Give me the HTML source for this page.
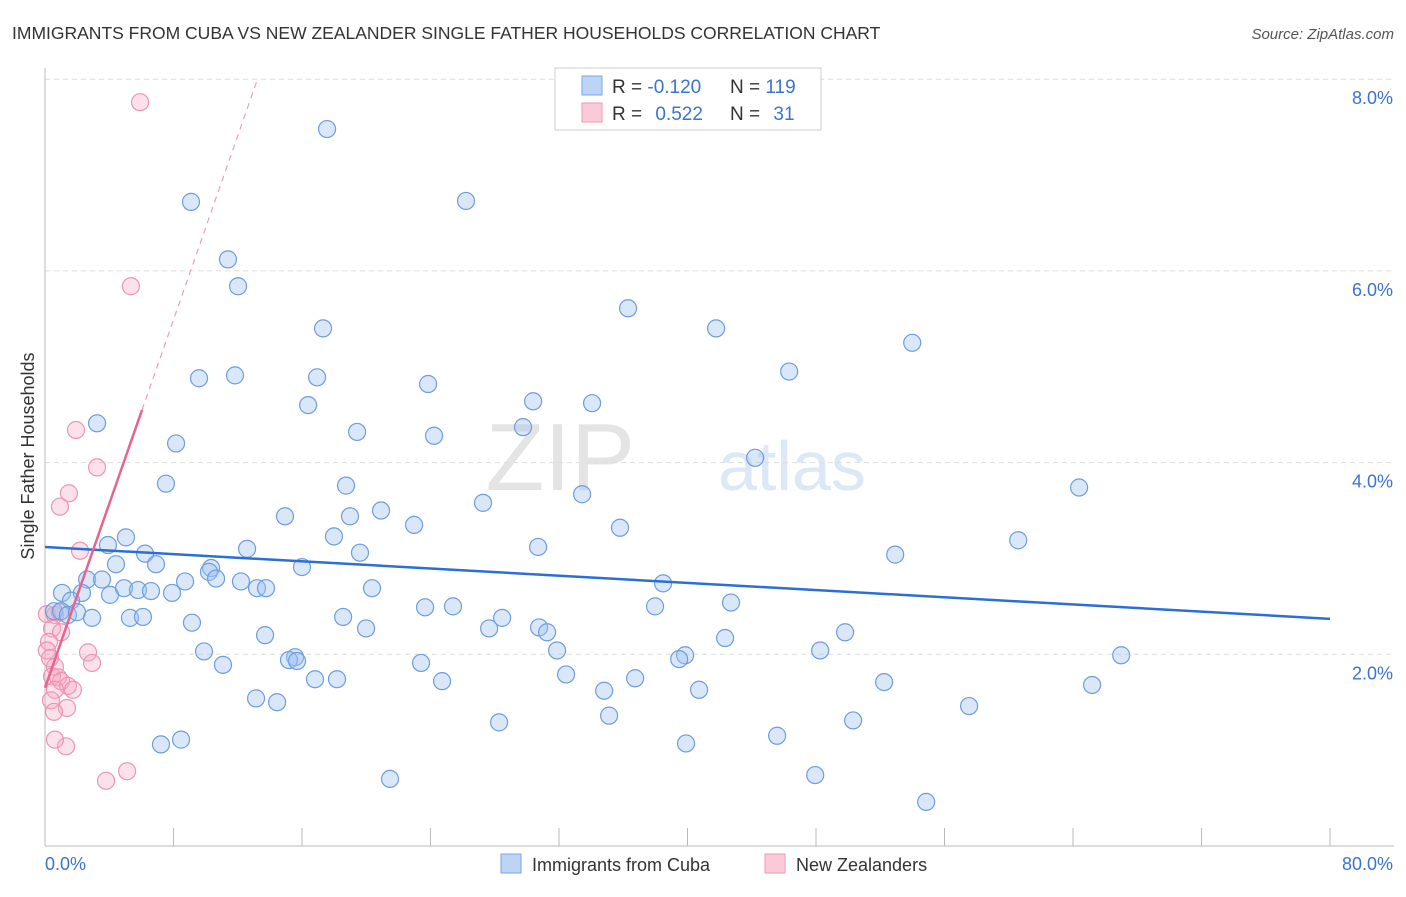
<!DOCTYPE html>
<html><head><meta charset="utf-8"><style>
body{margin:0;background:#fff;font-family:"Liberation Sans",sans-serif;}
svg text{font-family:"Liberation Sans",sans-serif;}
</style></head><body>
<svg id="chart" width="1406" height="892" xmlns="http://www.w3.org/2000/svg">
<text x="12" y="39" font-size="17.5" fill="#333">IMMIGRANTS FROM CUBA VS NEW ZEALANDER SINGLE FATHER HOUSEHOLDS CORRELATION CHART</text>
<text x="1394" y="39" font-size="15" fill="#555" font-style="italic" text-anchor="end">Source: ZipAtlas.com</text>
<text x="635" y="490" font-size="96" fill="#e4e4e4" text-anchor="end" font-family="Liberation Serif">ZIP</text>
<text x="718" y="490" font-size="70" fill="#dce8f7">atlas</text>
<g id="grid"></g>
<g id="axes"></g>
<g id="marks"></g>
<text transform="translate(34,456) rotate(-90)" font-size="18" fill="#333" text-anchor="middle">Single Father Households</text>
<g>
<rect x="555" y="68" width="266" height="62" fill="#fff" stroke="#ccc"/>
<rect x="582" y="76" width="20" height="19" fill="#bcd4f5" stroke="#7aa6e6"/>
<rect x="582" y="103" width="20" height="19" fill="#fbcad8" stroke="#ee9ab5"/>
<text x="612" y="93" font-size="19" fill="#333">R = <tspan fill="#3b73d0">-0.120</tspan></text>
<text x="730" y="93" font-size="19" fill="#333">N = <tspan fill="#3b73d0">119</tspan></text>
<text x="612" y="120" font-size="19" fill="#333">R = <tspan fill="#3b73d0" dx="8">0.522</tspan></text>
<text x="730" y="120" font-size="19" fill="#333">N = <tspan fill="#3b73d0" dx="8">31</tspan></text>
</g>
<g>
<rect x="501" y="854" width="20" height="19" fill="#bcd4f5" stroke="#7aa6e6"/>
<text x="532" y="871" font-size="18" fill="#333">Immigrants from Cuba</text>
<rect x="765" y="854" width="20" height="19" fill="#fbcad8" stroke="#ee9ab5"/>
<text x="796" y="871" font-size="18" fill="#333">New Zealanders</text>
</g>
</svg>
<script>
const xTicks=[0,8,16,24,32,40,48,56,64,72,80];
const yTicks=[2,4,6,8];
const yTickLabels=["2.0%","4.0%","6.0%","8.0%"];
const xEndLabels=["0.0%","80.0%"];
const cubaX=[17.56,9.09,26.21,11.39,12.02,36.30,17.31,41.78,53.99,9.59,11.83,16.94,46.33,23.85,16.38,30.39,34.06,3.24,19.43,29.76,24.22,8.16,44.21,7.53,18.74,64.38,33.44,27.27,14.94,18.99,20.92,22.98,35.80,17.99,5.04,3.92,60.59,30.70,12.58,19.61,52.93,6.23,4.42,6.91,16.00,10.34,2.62,3.55,8.72,10.21,10.65,12.20,13.20,13.76,20.36,38.48,1.06,2.30,1.62,4.05,4.92,5.79,6.60,7.91,0.56,1.00,1.43,1.99,2.93,5.29,6.10,23.66,25.40,42.71,37.98,18.56,28.46,9.15,27.65,30.76,31.26,19.99,49.81,13.70,42.34,67.00,31.88,48.26,9.90,39.85,39.48,15.57,15.19,15.69,11.08,23.41,16.81,18.18,24.72,32.44,36.74,52.24,65.19,13.14,14.45,34.81,40.72,57.53,35.12,28.27,50.31,45.58,8.47,7.22,39.91,47.95,21.48,54.86];
const cubaY=[7.48,6.72,6.73,6.12,5.84,5.61,5.40,5.40,5.25,4.88,4.91,4.89,4.95,4.82,4.60,4.64,4.62,4.41,4.32,4.37,4.28,4.20,4.05,3.78,3.76,3.74,3.67,3.58,3.44,3.44,3.50,3.35,3.32,3.23,3.22,3.14,3.19,3.12,3.10,3.06,3.04,3.05,2.94,2.94,2.91,2.90,2.78,2.78,2.76,2.86,2.79,2.76,2.69,2.69,2.69,2.74,2.64,2.64,2.56,2.62,2.69,2.67,2.66,2.64,2.45,2.45,2.41,2.44,2.38,2.38,2.39,2.49,2.50,2.54,2.50,2.39,2.38,2.33,2.27,2.28,2.23,2.27,2.23,2.20,2.17,1.99,2.04,2.04,2.03,1.99,1.95,1.97,1.94,1.93,1.89,1.91,1.74,1.74,1.72,1.79,1.75,1.71,1.68,1.54,1.50,1.62,1.63,1.46,1.36,1.29,1.31,1.15,1.11,1.06,1.07,0.74,0.70,0.46];
const nzX=[5.92,5.35,1.93,3.24,1.49,0.93,2.18,0.12,0.62,0.93,0.44,1.00,0.25,0.12,0.31,2.68,2.93,0.62,0.44,0.81,1.00,1.43,0.62,1.74,0.37,1.37,0.56,1.31,0.62,5.11,3.80];
const nzY=[7.76,5.84,4.34,3.95,3.68,3.54,3.08,2.42,2.41,2.44,2.27,2.23,2.13,2.04,1.96,2.02,1.91,1.87,1.77,1.76,1.72,1.67,1.63,1.63,1.52,1.44,1.40,1.04,1.11,0.78,0.68];
const cubaTrend=[3.12,2.37];
const nzTrend=[1.65,0.48];
const nzSolidEnd=6.04;

const X=v=>45+v*1285/80;
const Y=v=>846-v*95.85;
const NS="http://www.w3.org/2000/svg";
function mk(parent,tag,attrs){const e=document.createElementNS(NS,tag);for(const k in attrs)e.setAttribute(k,attrs[k]);document.getElementById(parent).appendChild(e);return e;}
yTicks.forEach((t,i)=>{
 const l=mk('grid','line',{x1:45,x2:1394,y1:Y(t),y2:Y(t),stroke:'#ddd','stroke-dasharray':'5,4'});
 
 
 const tx=mk('grid','text',{x:1393,y:Y(t)+25,'font-size':18,fill:'#3b73d0','text-anchor':'end'});
 tx.textContent=yTickLabels[i];
 
 
});
const ax=mk('axes','line',{x1:45,x2:1394,y1:846,y2:846,stroke:'#bbb'});


const ay=mk('axes','line',{x1:45,x2:45,y1:68,y2:846,stroke:'#bbb'});


xTicks.forEach(t=>{
 const l=mk('axes','line',{x1:X(t),x2:X(t),y1:828,y2:846,stroke:'#bbb'});
 
 
});
const xl0=mk('axes','text',{x:45,y:870,'font-size':18,fill:'#3b73d0'});xl0.textContent=xEndLabels[0];


const xl1=mk('axes','text',{x:1393,y:870,'font-size':18,fill:'#3b73d0','text-anchor':'end'});xl1.textContent=xEndLabels[1];


nzX.forEach((x,i)=>{
 const c=mk('marks','circle',{cx:X(x),cy:Y(nzY[i]),r:8.5,fill:'rgba(246,170,194,0.35)',stroke:'#eb95b2','stroke-width':1.2});
 
 
});
cubaX.forEach((x,i)=>{
 const c=mk('marks','circle',{cx:X(x),cy:Y(cubaY[i]),r:8.5,fill:'rgba(160,196,240,0.4)',stroke:'#6d9de0','stroke-width':1.2});
 
 
});
const bt=mk('marks','line',{x1:X(0),y1:Y(cubaTrend[0]),x2:X(80),y2:Y(cubaTrend[1]),stroke:'#2a6fd6','stroke-width':2.5});


const ps=mk('marks','line',{x1:X(0),y1:Y(nzTrend[0]),x2:X(nzSolidEnd),y2:Y(nzTrend[0]+nzTrend[1]*nzSolidEnd),stroke:'#e8648f','stroke-width':2.5});


const xEnd=(8.0-nzTrend[0])/nzTrend[1];
const pd=mk('marks','line',{x1:X(nzSolidEnd),y1:Y(nzTrend[0]+nzTrend[1]*nzSolidEnd),x2:X(xEnd),y2:Y(8.0),stroke:'#eba0b8','stroke-width':1.2,'stroke-dasharray':'6,5'});


</script>
</body></html>
